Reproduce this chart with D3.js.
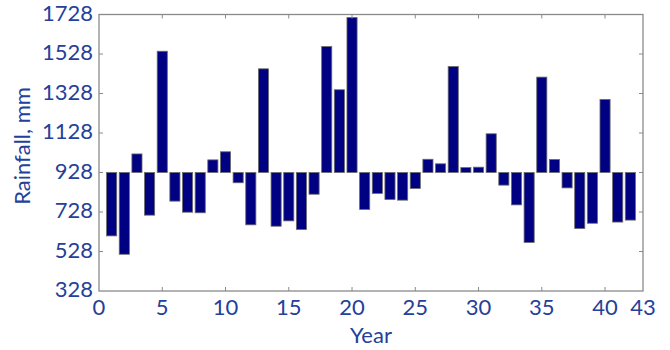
<!DOCTYPE html>
<html>
<head>
<meta charset="utf-8">
<script src="https://cdn.jsdelivr.net/npm/d3@7"></script>
<style>
  body { margin: 0; background: #fff; }
  text { font-family: Lato, "Open Sans", sans-serif; fill: #24409a; }
</style>
</head>
<body>
<div id="chart"></div>
<script>
// rainfall per year, mm
const years = d3.range(1, 43);
const rainfall = [
  607, 514, 1022, 712, 1542, 783, 727, 724, 992, 1033,
  876, 663, 1453, 656, 683, 639, 818, 1566, 1347, 1713,
  741, 822, 791, 788, 847, 995, 972, 1465, 953, 955,
  1124, 864, 764, 574, 1411, 994, 850, 644, 671, 1298,
  677, 687
];
const baseline = 928;
const yTicks = [328, 528, 728, 928, 1128, 1328, 1528, 1728];
const xTicks = [0, 5, 10, 15, 20, 25, 30, 35, 40, 43];

const width = 670, height = 350;
const margin = { top: 14.5, right: 27, bottom: 59, left: 99 };

const svg = d3.select("#chart").append("svg")
  .attr("width", width)
  .attr("height", height);

const x = d3.scaleLinear().domain([0, 43]).range([margin.left, width - margin.right]);
const y = d3.scaleLinear().domain([328, 1728]).range([height - margin.bottom, margin.top]);

const bw = (x(1) - x(0)) * 0.8;

// bars grow up or down from the 928 baseline
svg.append("g")
  .selectAll("rect")
  .data(years)
  .join("rect")
  .attr("x", (d) => x(d) - bw / 2)
  .attr("width", bw)
  .attr("y", (d, i) => y(Math.max(rainfall[i], baseline)))
  .attr("height", (d, i) => Math.abs(y(rainfall[i]) - y(baseline)))
  .attr("fill", "#000083")
  .attr("stroke", "#6b6b6b")
  .attr("stroke-width", 0.8);

const axisColor = "#8a8a8a";
const tickLen = 4;

// box
svg.append("rect")
  .attr("x", x(0))
  .attr("y", y(1728))
  .attr("width", x(43) - x(0))
  .attr("height", y(328) - y(1728))
  .attr("fill", "none")
  .attr("stroke", axisColor)
  .attr("stroke-width", 1.3);

// inward ticks on all four sides
const ticks = svg.append("g").attr("stroke", axisColor).attr("stroke-width", 1);
yTicks.slice(1, -1).forEach((t) => {
  ticks.append("line").attr("x1", x(0)).attr("x2", x(0) + tickLen).attr("y1", y(t)).attr("y2", y(t));
  ticks.append("line").attr("x1", x(43)).attr("x2", x(43) - tickLen).attr("y1", y(t)).attr("y2", y(t));
});
xTicks.slice(1, -1).forEach((t) => {
  ticks.append("line").attr("x1", x(t)).attr("x2", x(t)).attr("y1", y(328)).attr("y2", y(328) - tickLen);
  ticks.append("line").attr("x1", x(t)).attr("x2", x(t)).attr("y1", y(1728)).attr("y2", y(1728) + tickLen);
});

// tick labels
svg.append("g")
  .selectAll("text")
  .data(yTicks)
  .join("text")
  .attr("x", x(0) - 6)
  .attr("y", (d) => y(d))
  .attr("dy", "0.28em")
  .attr("text-anchor", "end")
  .attr("font-size", 22)
  .text((d) => d);

svg.append("g")
  .selectAll("text")
  .data(xTicks)
  .join("text")
  .attr("x", (d) => x(d))
  .attr("y", y(328) + 24)
  .attr("text-anchor", "middle")
  .attr("font-size", 22)
  .text((d) => d);

// axis titles
svg.append("text")
  .attr("x", (x(0) + x(43)) / 2)
  .attr("y", 343)
  .attr("text-anchor", "middle")
  .attr("font-size", 22)
  .text("Year");

svg.append("text")
  .attr("transform", `translate(30,${146}) rotate(-90)`)
  .attr("text-anchor", "middle")
  .attr("font-size", 22)
  .text("Rainfall, mm");
</script>
</body>
</html>
